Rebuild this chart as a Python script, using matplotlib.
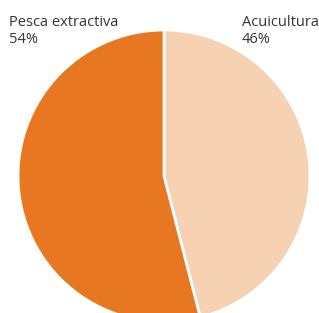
import matplotlib
matplotlib.use("Agg")
import matplotlib.pyplot as plt

# ——— Datos ———
categorias = ["Acuicultura", "Pesca extractiva"]
valores = [46, 54]
colores = ["#F6D1B2", "#E87722"]

plt.rcParams['font.family'] = ['Open Sans', 'DejaVu Sans']

fig = plt.figure(figsize=(3.19, 3.13), dpi=100)
ax = fig.add_axes([0, 0, 1, 1])

# Coordenadas en píxeles (origen abajo a la izquierda)
ax.pie(valores, colors=colores, startangle=90, counterclock=False,
       center=(164, 313 - 176), radius=146, frame=True,
       wedgeprops=dict(edgecolor='white', linewidth=2))
ax.set_xlim(0, 319)
ax.set_ylim(0, 313)
ax.set_aspect('auto')
ax.axis('off')

# Etiquetas
ax.text(9, 313 - 15, f"{categorias[1]}\n{valores[1]}%", fontsize=10.5, color='#333333',
        va='top', ha='left', linespacing=1.2)
ax.text(242, 313 - 15, f"{categorias[0]}\n{valores[0]}%", fontsize=10.5, color='#333333',
        va='top', ha='left', linespacing=1.2)

fig.savefig("out.png", dpi=100)
